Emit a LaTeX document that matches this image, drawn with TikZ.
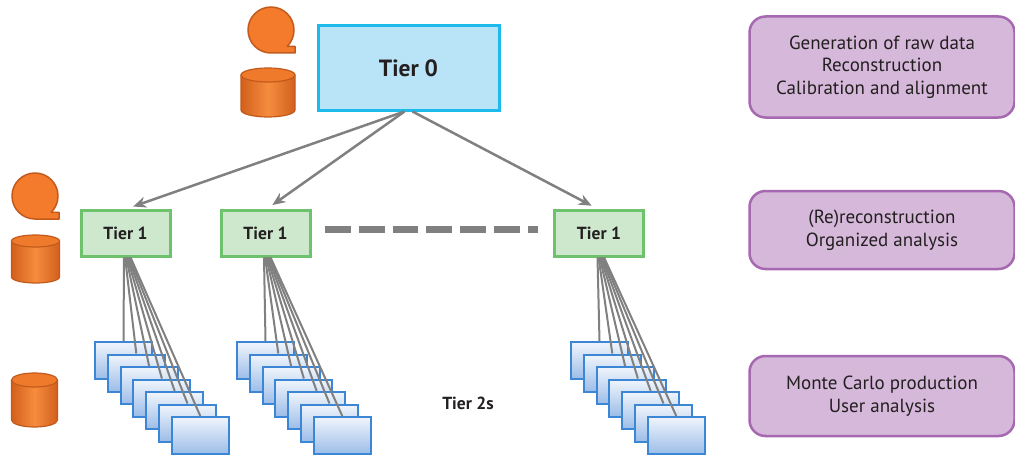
\documentclass[tikz,border=0pt]{standalone}
\usepackage{fontspec}
\setmainfont{PT Sans}
\usetikzlibrary{arrows.meta}

\definecolor{txt}{HTML}{231F20}
\definecolor{zeroline}{HTML}{1CBBEC}
\definecolor{zerofill}{HTML}{B9E3F7}
\definecolor{oneline}{HTML}{6DC26B}
\definecolor{onefill}{HTML}{CDE8CC}
\definecolor{twoline}{HTML}{3B87D6}
\definecolor{twotop}{HTML}{F0F5FC}
\definecolor{twobottom}{HTML}{9CBDE8}
\definecolor{roleline}{HTML}{A668B0}
\definecolor{rolefill}{HTML}{D6B8DA}
\definecolor{linkgray}{HTML}{808080}
\definecolor{iconfill}{HTML}{F37B2B}
\definecolor{iconline}{HTML}{C25A1C}
\definecolor{cylmid}{HTML}{F68C3E}
\definecolor{cyldark}{HTML}{D2601C}
\definecolor{cyltop}{HTML}{F07A2C}

\tikzset{
  tierzero/.style={draw=zeroline, fill=zerofill, line width=3pt,
    minimum width=181pt, minimum height=84pt, text=txt,
    font=\bfseries\fontsize{23.5}{27}\selectfont},
  tierone/.style={draw=oneline, fill=onefill, line width=3pt,
    minimum width=89pt, minimum height=46pt, text=txt,
    font=\bfseries\fontsize{17.5}{20}\selectfont},
  tiertwo/.style={draw=twoline, line width=2pt, top color=twotop,
    bottom color=twobottom, minimum width=57pt, minimum height=37pt},
  rolebox/.style={draw=roleline, fill=rolefill, line width=2.5pt,
    rounded corners=16pt, align=center, text=txt, minimum width=265pt,
    font=\fontsize{19}{22.5}\selectfont},
  feed/.style={draw=linkgray, line width=2.5pt,
    -{Stealth[length=13pt,width=11pt]}},
  fan/.style={draw=linkgray, line width=2pt},
  peerlink/.style={draw=linkgray, line width=7pt,
    dash pattern=on 25.7pt off 8.1pt},
  pics/personicon/.style={code={
    \draw[draw=iconline, fill=iconfill, line width=1.5pt, line join=round]
      (0,23) arc[start angle=90, end angle=405, radius=23]
      -- (24,16.3) -- (24,23) -- cycle;
  }},
  pics/diskicon/.style args={#1/#2/#3}{code={
    \shade[left color=cyldark, right color=cyldark, middle color=cylmid]
      (-#1,0) -- (-#1,#3) arc[start angle=180, end angle=0, x radius=#1, y radius=#2]
      -- (#1,0) arc[start angle=0, end angle=-180, x radius=#1, y radius=#2] -- cycle;
    \draw[draw=iconline, line width=1.2pt]
      (-#1,0) -- (-#1,#3) arc[start angle=180, end angle=0, x radius=#1, y radius=#2]
      -- (#1,0);
    \draw[draw=iconline, fill=cyltop, line width=1.2pt]
      (0,0) ellipse[x radius=#1, y radius=#2];
  }},
}

\begin{document}
\begin{tikzpicture}[x=1pt, y=-1pt]
\useasboundingbox (0,0) rectangle (1015,460);

% site icons
\pic at (271,30) {personicon};
\pic at (268,75) {diskicon=27/7/35};
\pic at (35,196) {personicon};
\pic at (35.5,241) {diskicon=24/6/36};
\pic at (34.5,380) {diskicon=23/7/40};

% tier nodes
\node[tierzero] (t0) at (408.5,68) {Tier 0};
\node[tierone] (t1a) at (125.5,233) {Tier 1};
\node[tierone] (t1b) at (265.5,233) {Tier 1};
\node[tierone] (t1c) at (599,233) {Tier 1};

% links from tier 0 to tier 1
\draw[feed, shorten >=6pt] ([xshift=-4pt]t0.south) -- ([xshift=2pt]t1a.north);
\draw[feed, shorten >=6pt] ([xshift=-4pt]t0.south) -- ([xshift=2pt]t1b.north);
\draw[feed, shorten >=6pt] ([xshift=4pt]t0.south) -- ([xshift=-2pt]t1c.north);

% tier 1 peering
\coordinate (peerA) at (325,229);
\coordinate (peerB) at (538,229);
\draw[peerlink] (peerA) -- (peerB);

% tier 2 stacks
\foreach \s/\xo in {a/95, b/237, c/571} {
  \foreach \k in {0,...,6} {
    \node[tiertwo] (t2\s\k) at ({\xo+28.5+12.8*\k},{360.5+12.5*\k}) {};
  }
}
\foreach \s in {a,b,c} {
  \foreach \k in {0,...,6} {
    \pgfmathsetmacro{\dx}{1.1*\k-1.5}
    \draw[fan] ([xshift=\dx pt]t1\s.south) -- (t2\s\k.north);
  }
}

\node[text=txt, font=\bfseries\fontsize{17.5}{20}\selectfont] (t2label) at (468,403) {Tier 2s};

% role descriptions
\node[rolebox, minimum height=101pt] (roleA) at (882,67)
  {Generation of raw data\\Reconstruction\\Calibration and alignment};
\node[rolebox, minimum height=78pt] (roleB) at (882,230)
  {(Re)reconstruction\\Organized analysis};
\node[rolebox, minimum height=80pt] (roleC) at (882,396)
  {Monte Carlo production\\User analysis};
\end{tikzpicture}
\end{document}
